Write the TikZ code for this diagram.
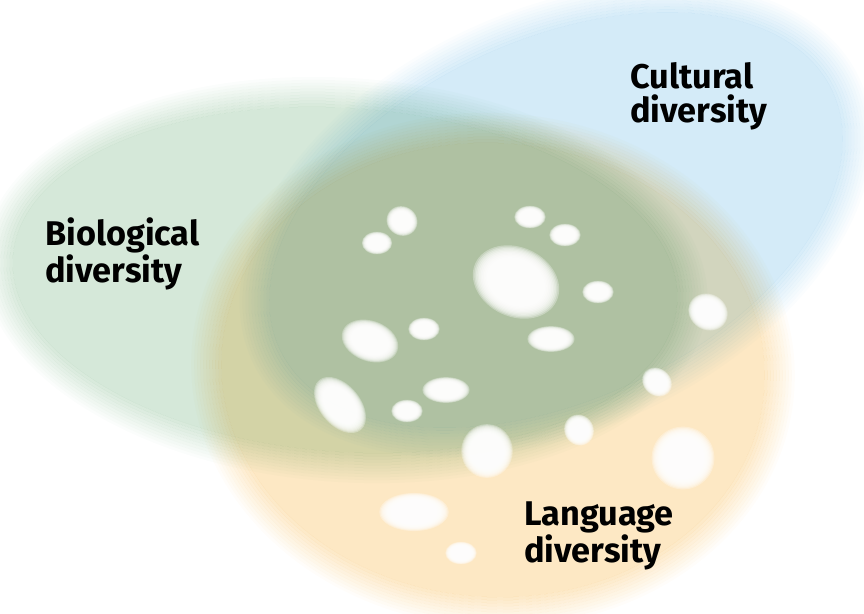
\documentclass[tikz,border=0pt]{standalone}
\usepackage{fontspec}
\setmainfont{Fira Sans}
\usetikzlibrary{positioning}

\definecolor{bioGreen}{RGB}{213,232,217}
\definecolor{cultBlue}{RGB}{212,235,248}
\definecolor{langOrange}{RGB}{253,232,196}

\begin{document}
\begin{tikzpicture}[x=0.02cm,y=-0.02cm,
    set ring/.style={even odd rule,blend mode=multiply},
    spot/.style={fill=white,fill opacity=0.3},
    label node/.style={anchor=north west,inner sep=0pt,align=left,
      font=\fontsize{19.5}{19.3}\selectfont\bfseries}]

  \useasboundingbox (0,0) rectangle (864,613);

  % the three sets: soft edge made of rings, then a full core
  \foreach \d [count=\i, evaluate=\i as \op using \i/11] in {15,12,...,-12}
    \fill[set ring,fill=bioGreen,fill opacity=\op,rotate around={-4:(345,280)}]
      (345,280) ellipse [x radius=348+\d, y radius=187+\d]
      (345,280) ellipse [x radius=345+\d, y radius=184+\d];
  \fill[set ring,fill=bioGreen,rotate around={-4:(345,280)}]
    (345,280) ellipse [x radius=333, y radius=172];

  \foreach \d [count=\i, evaluate=\i as \op using \i/11] in {15,12,...,-12}
    \fill[set ring,fill=cultBlue,fill opacity=\op,rotate around={25:(556,220)}]
      (556,220) ellipse [x radius=320+\d, y radius=195+\d]
      (556,220) ellipse [x radius=317+\d, y radius=192+\d];
  \fill[set ring,fill=cultBlue,rotate around={25:(556,220)}]
    (556,220) ellipse [x radius=305, y radius=180];

  \foreach \d [count=\i, evaluate=\i as \op using \i/11] in {15,12,...,-12}
    \fill[set ring,fill=langOrange,fill opacity=\op,rotate around={-4:(493,370)}]
      (493,370) ellipse [x radius=287+\d, y radius=242+\d]
      (493,370) ellipse [x radius=284+\d, y radius=239+\d];
  \fill[set ring,fill=langOrange,rotate around={-4:(493,370)}]
    (493,370) ellipse [x radius=272, y radius=227];

  % white spots
  \foreach \x/\y/\rx/\ry/\a in {402/221/14/13/-30, 377/243/13.5/10/0,
      530/217/14/10/0, 565/235/14/10/0, 516/282/40/31/-25, 598/292/14/10/0,
      708/312/18/16/-30, 370/341/26/18/-20, 424/329/14/10/0, 551/339/21/11.5/0,
      657/382/14/12/-40, 446/390/21/11.5/0, 340/405/29/18/-50, 407/411/14/10/0,
      487/451/23/24/0, 579/430/14/13/-60, 683/458/28/28/0, 414/512/31/17/0,
      461/553/14/10/0}
    \foreach \f in {1.12,1.08,...,0.76}
      \fill[spot,rotate around={\a:(\x,\y)}]
        (\x,\y) ellipse [x radius=\f*\rx, y radius=\f*\ry];

  \node[label node] (bio) at (45,217) {Biological\\diversity};
  \node[label node] (cult) at (630,62) {Cultural\\diversity};
  \node[label node] (lang) at (524,501) {Language\\diversity};

\end{tikzpicture}
\end{document}
